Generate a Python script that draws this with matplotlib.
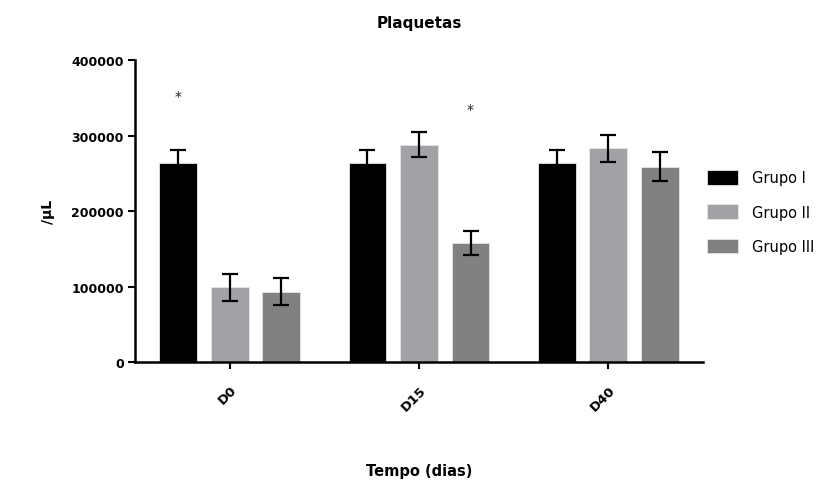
import numpy as np
import matplotlib
matplotlib.use('Agg')
import matplotlib.pyplot as plt

# Datos (plaquetas / uL)
dias = ['D0', 'D15', 'D40']
grupos = ['Grupo I', 'Grupo II', 'Grupo III']
media = {
    'Grupo I': [264000, 264000, 264000],
    'Grupo II': [99000, 288000, 283000],
    'Grupo III': [93000, 158000, 259000],
}
erro = {
    'Grupo I': [17000, 17000, 17000],
    'Grupo II': [18000, 17000, 18000],
    'Grupo III': [18000, 16000, 19000],
}
colores = ['#000000', '#a2a1a5', '#818181']

# asteriscos de significancia: (dia, grupo, altura)
asteriscos = [(0, 0, 352000), (1, 2, 335000)]

plt.rcParams['font.family'] = ['DejaVu Sans']
plt.rcParams['font.weight'] = 'bold'

fig = plt.figure(figsize=(8.38, 4.81), dpi=100)
ax = fig.add_axes([0.161, 0.2453, 0.678, 0.6277])

x = np.arange(len(dias))
paso = 0.272
ancho = 0.2
for i, g in enumerate(grupos):
    pos = x + (i - 1) * paso
    ax.bar(pos, media[g], width=ancho, color=colores[i], edgecolor='#e6e6e6',
           linewidth=0.6, label=g, zorder=2)
    ax.errorbar(pos, media[g], yerr=erro[g], fmt='none', ecolor='black',
                elinewidth=1.6, capsize=6, capthick=1.6, zorder=3)

for d, gi, h in asteriscos:
    ax.text(x[d] + (gi - 1) * paso, h, '*', ha='center', va='center',
            fontsize=10, fontweight='normal', color='#222222')

ax.set_xlim(-0.5, 2.5)
ax.set_ylim(0, 400000)
ax.set_yticks([0, 100000, 200000, 300000, 400000])
ax.set_yticklabels(['0', '100000', '200000', '300000', '400000'])
ax.set_xticks(x)
ax.set_xticklabels(dias, rotation=45, ha='right', rotation_mode='anchor')

for s in ['top', 'right']:
    ax.spines[s].set_visible(False)
for s in ['left', 'bottom']:
    ax.spines[s].set_linewidth(1.8)
ax.tick_params(axis='both', direction='out', length=5, width=1.5,
               labelsize=9, pad=3)
ax.tick_params(axis='x', pad=10, labelsize=9.5)

ax.set_title('Plaquetas', fontsize=11, fontweight='bold', pad=24)
ax.set_xlabel('Tempo (dias)', fontsize=10.5, fontweight='bold')
ax.xaxis.set_label_coords(0.5, -0.335)
ax.set_ylabel('/µL', fontsize=10, fontweight='bold', labelpad=12)

ax.legend(loc='center left', bbox_to_anchor=(1.0, 0.497), frameon=False,
          handlelength=2.1, handleheight=1.15,
          labelspacing=1.3, handletextpad=0.95, borderaxespad=0,
          borderpad=0.3,
          prop={'weight': 'normal', 'size': 10.5})

fig.savefig('out.png', dpi=100)
